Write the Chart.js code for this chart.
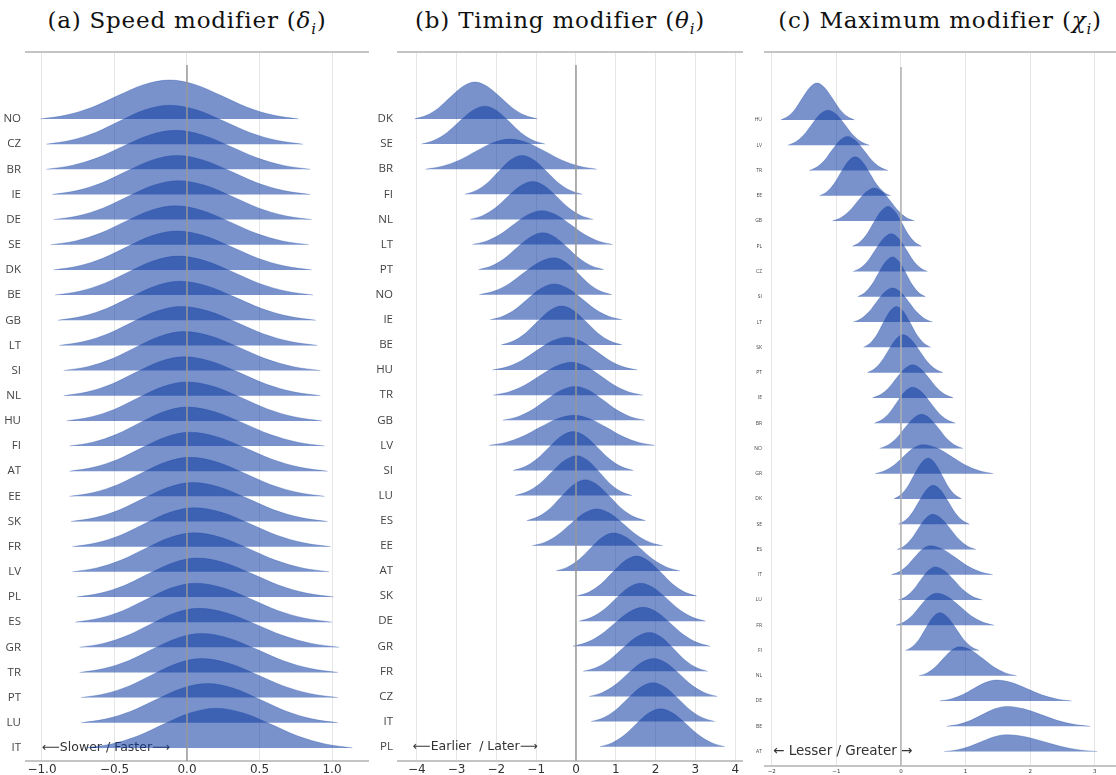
<!DOCTYPE html>
<html>
<head>
<meta charset="utf-8">
<script src="https://cdn.jsdelivr.net/npm/chart.js@4.4.1/dist/chart.umd.min.js"></script>
<style>
    body { margin: 0; background: #ffffff; width: 1116px; height: 775px; position: relative; overflow: hidden; }
    .title { position: absolute; top: 7px; font-family: "DejaVu Serif", serif; font-size: 23px; letter-spacing: 0.8px; color: #111111; white-space: nowrap; transform: translateX(-50%); }
    .title sub { font-size: 15px; }
    canvas { position: absolute; top: 40px; }
</style>
</head>
<body>
<div class="title" style="left:187px">(a) Speed modifier (<i>δ</i><sub><i>i</i></sub>)</div>
<div class="title" style="left:560px">(b) Timing modifier (<i>θ</i><sub><i>i</i></sub>)</div>
<div class="title" style="left:940px">(c) Maximum modifier (<i>χ</i><sub><i>i</i></sub>)</div>
<canvas id="chart_speed" width="372" height="735" style="left:0px"></canvas>
<canvas id="chart_timing" width="374" height="735" style="left:372px"></canvas>
<canvas id="chart_max" width="370" height="735" style="left:746px"></canvas>
<script>
// (a) Speed modifier: range ends, mode and ridge height (in rows) per country
const speedRows = ['NO','CZ','BR','IE','DE','SE','DK','BE','GB','LT','SI','NL','HU','FI','AT','EE','SK','FR','LV','PL','ES','GR','TR','PT','LU','IT'];
const speedLow  = [-1.01,-0.97,-0.97,-0.93,-0.92,-0.94,-0.92,-0.91,-0.89,-0.88,-0.85,-0.85,-0.83,-0.81,-0.81,-0.81,-0.80,-0.79,-0.79,-0.76,-0.77,-0.74,-0.74,-0.73,-0.73,-0.70];
const speedMode = [-0.12,-0.12,-0.08,-0.07,-0.06,-0.08,-0.07,-0.06,-0.05,-0.04,-0.02,-0.02,0.00,0.00,0.02,0.02,0.04,0.05,0.05,0.07,0.06,0.08,0.10,0.10,0.14,0.20];
const speedHigh = [0.77,0.80,0.85,0.85,0.86,0.84,0.86,0.87,0.89,0.90,0.92,0.92,0.93,0.95,0.97,0.95,0.97,0.99,0.98,1.01,1.00,1.05,1.04,1.04,1.04,1.14];
const speedPeak = [1.55,1.55,1.55,1.55,1.55,1.55,1.55,1.55,1.55,1.55,1.55,1.55,1.55,1.55,1.55,1.55,1.55,1.55,1.55,1.55,1.55,1.55,1.55,1.55,1.56,1.58];
const speedTicks = [-1.0, -0.5, 0.0, 0.5, 1.0];

// (b) Timing modifier
const timingRows = ['DK','SE','BR','FI','NL','LT','PT','NO','IE','BE','HU','TR','GB','LV','SI','LU','ES','EE','AT','SK','DE','GR','FR','CZ','IT','PL'];
const timingLow  = [-4.06,-3.88,-3.78,-2.79,-2.66,-2.60,-2.45,-2.43,-2.16,-1.88,-2.10,-2.08,-1.84,-2.19,-1.58,-1.53,-1.24,-1.10,-0.50,0.03,0.08,-0.08,0.18,0.33,0.38,0.60];
const timingMode = [-2.54,-2.29,-1.66,-1.36,-1.09,-0.86,-0.83,-0.55,-0.55,-0.36,-0.23,-0.11,-0.02,-0.05,-0.07,0.02,0.23,0.52,0.94,1.52,1.62,1.69,1.85,1.95,1.93,2.12];
const timingHigh = [-0.97,-0.78,0.52,0.16,0.43,0.92,0.70,0.90,1.16,1.16,1.54,1.68,1.73,1.98,1.44,1.41,1.75,2.18,2.61,3.03,3.26,3.37,3.31,3.55,3.49,3.74];
const timingPeak = [1.47,1.51,1.20,1.55,1.51,1.35,1.47,1.47,1.43,1.55,1.31,1.31,1.35,1.20,1.55,1.59,1.63,1.47,1.51,1.59,1.51,1.55,1.55,1.51,1.55,1.51];
const timingTicks = [-4, -3, -2, -1, 0, 1, 2, 3, 4];

// (c) Maximum modifier
const maxRows = ['HU','LV','TR','EE','GB','PL','CZ','SI','LT','SK','PT','IE','BR','NO','GR','DK','SE','ES','IT','LU','FR','FI','NL','DE','BE','AT'];
const maxLow  = [-1.86,-1.75,-1.42,-1.26,-1.06,-0.75,-0.74,-0.67,-0.74,-0.58,-0.52,-0.44,-0.41,-0.33,-0.40,-0.11,-0.04,-0.06,-0.15,-0.04,-0.08,0.07,0.28,0.60,0.71,0.67];
const maxMode = [-1.30,-1.13,-0.83,-0.71,-0.41,-0.20,-0.15,-0.13,-0.13,-0.07,0.03,0.18,0.18,0.32,0.34,0.42,0.50,0.49,0.45,0.53,0.55,0.60,0.91,1.48,1.64,1.64];
const maxHigh = [-0.72,-0.49,-0.20,-0.16,0.21,0.32,0.41,0.38,0.49,0.46,0.65,0.81,0.84,0.96,1.43,0.94,1.06,1.16,1.42,1.26,1.44,1.21,1.79,2.64,2.93,3.04];
const maxPeak = [1.46,1.39,1.35,1.54,1.31,1.58,1.50,1.58,1.35,1.62,1.50,1.31,1.42,1.35,1.15,1.62,1.54,1.39,1.15,1.31,1.27,1.50,1.15,0.83,0.79,0.67];
const maxTicks = [-2, -1, 0, 1, 2, 3];

// kernel-density outline: knots as fraction of the half range, relative height
const kdeStep   = [0, 0.2, 0.4, 0.6, 0.8, 1];
const kdeHeight = [1, 0.88, 0.6, 0.3, 0.1, 0];

const RIDGE_FILL = 'rgba(16, 61, 163, 0.56)';
const RIDGE_EDGE = 'rgba(16, 61, 163, 0.35)';
const GRID = '#e6e6e6';
const SPINE = '#c4c4c4';

// Build the outline of one ridge (y axis is reversed: row index grows downwards)
function ridgePoints(row, lo, mode, hi, peak) {
    const pts = [];
    for (let k = kdeStep.length - 1; k > 0; k--) {
        pts.push({ x: mode - (mode - lo) * kdeStep[k], y: row - peak * kdeHeight[k] });
    }
    pts.push({ x: mode, y: row - peak });
    for (let k = 1; k < kdeStep.length; k++) {
        pts.push({ x: mode + (hi - mode) * kdeStep[k], y: row - peak * kdeHeight[k] });
    }
    return pts;
}

function minusSign(v, digits) {
    return v.toFixed(digits).replace('-', '\u2212');
}

// Arrow caption under the last ridge, drawn before the ridges so they cover it
const captionPlugin = {
    id: 'caption',
    beforeDatasetsDraw(chart) {
        const cap = chart.options.plugins.caption;
        if (!cap) return;
        const ctx = chart.ctx;
        ctx.save();
        ctx.font = cap.size + 'px "DejaVu Sans", sans-serif';
        ctx.fillStyle = '#333333';
        ctx.textBaseline = 'middle';
        ctx.fillText(cap.text, chart.scales.x.getPixelForValue(cap.x), chart.scales.y.getPixelForValue(cap.row));
        ctx.restore();
    }
};

function initializeRidges(canvasId, cfg) {
    const datasets = cfg.rows.map((name, i) => ({
        label: name,
        data: ridgePoints(i, cfg.low[i], cfg.mode[i], cfg.high[i], cfg.peak[i]),
        backgroundColor: RIDGE_FILL,
        borderColor: RIDGE_EDGE,
        borderWidth: 0.8,
        pointRadius: 0,
        cubicInterpolationMode: 'monotone',
        fill: { value: i },
        order: 1
    }));

    // zero reference line
    datasets.push({
        label: 'zero',
        data: [{ x: 0, y: cfg.zeroTop }, { x: 0, y: cfg.yMax }],
        borderColor: cfg.zeroColor,
        borderWidth: 1.5,
        pointRadius: 0,
        fill: false,
        order: 0
    });

    new Chart(document.getElementById(canvasId).getContext('2d'), {
        type: 'line',
        data: { datasets: datasets },
        plugins: [captionPlugin],
        options: {
            responsive: false,
            animation: false,
            devicePixelRatio: 1,
            layout: { padding: { top: 12, right: cfg.padRight, left: 0, bottom: 0 } },
            plugins: {
                legend: { display: false },
                tooltip: { enabled: false },
                caption: cfg.caption
            },
            scales: {
                x: {
                    type: 'linear',
                    min: cfg.xMin,
                    max: cfg.xMax,
                    afterBuildTicks: s => { s.ticks = cfg.ticks.map(v => ({ value: v })); },
                    afterFit: s => { s.height = cfg.xAxisHeight; },
                    ticks: {
                        callback: v => minusSign(v, cfg.digits),
                        font: { size: cfg.tickSize, family: 'DejaVu Sans' },
                        color: '#333333',
                        padding: 2,
                        maxRotation: 0
                    },
                    grid: { color: GRID, lineWidth: 1, drawTicks: false },
                    border: { color: SPINE, width: 2 }
                },
                x2: {
                    type: 'linear',
                    position: 'top',
                    min: cfg.xMin,
                    max: cfg.xMax,
                    afterFit: s => { s.height = 0; },
                    ticks: { display: false },
                    grid: { display: false },
                    border: { color: SPINE, width: 2 }
                },
                y: {
                    type: 'linear',
                    reverse: true,
                    min: cfg.yMin,
                    max: cfg.yMax,
                    afterBuildTicks: s => { s.ticks = cfg.rows.map((_, i) => ({ value: i })); },
                    afterFit: s => { s.width = cfg.yAxisWidth; },
                    ticks: {
                        autoSkip: false,
                        callback: v => cfg.rows[v],
                        font: { size: cfg.labelSize, family: 'Open Sans' },
                        color: '#444444',
                        padding: cfg.labelPad
                    },
                    grid: { display: false, drawTicks: false, tickLength: 0 },
                    border: { display: false }
                }
            }
        }
    });
}

initializeRidges('chart_speed', {
    rows: speedRows, low: speedLow, mode: speedMode, high: speedHigh, peak: speedPeak,
    ticks: speedTicks, digits: 1,
    xMin: -1.11, xMax: 1.248, yMin: -2.663, yMax: 25.52, zeroTop: -2.15,
    padRight: 4, yAxisWidth: 26, xAxisHeight: 14, tickSize: 12, labelSize: 11.5, labelPad: 5,
    zeroColor: '#999999',
    caption: { text: '\u27F5Slower / Faster\u27F6', x: -1.0, row: 25, size: 12.5 }
});

initializeRidges('chart_timing', {
    rows: timingRows, low: timingLow, mode: timingMode, high: timingHigh, peak: timingPeak,
    ticks: timingTicks, digits: 0,
    xMin: -4.472, xMax: 4.171, yMin: -2.668, yMax: 25.57, zeroTop: -2.15,
    padRight: 4, yAxisWidth: 26, xAxisHeight: 14, tickSize: 12, labelSize: 11.5, labelPad: 5,
    zeroColor: '#999999',
    caption: { text: '\u27F5Earlier  / Later\u27F6', x: -4.1, row: 25, size: 12.5 }
});

initializeRidges('chart_max', {
    rows: maxRows, low: maxLow, mode: maxMode, high: maxHigh, peak: maxPeak,
    ticks: maxTicks, digits: 0,
    xMin: -2.105, xMax: 3.313, yMin: -2.691, yMax: 25.57, zeroTop: -2.1,
    padRight: 1, yAxisWidth: 19, xAxisHeight: 9, tickSize: 5.5, labelSize: 5, labelPad: 3,
    zeroColor: '#b0b0b0',
    caption: { text: '\u2190 Lesser / Greater \u2192', x: -1.98, row: 25, size: 13.5 }
});
</script>
</body>
</html>
